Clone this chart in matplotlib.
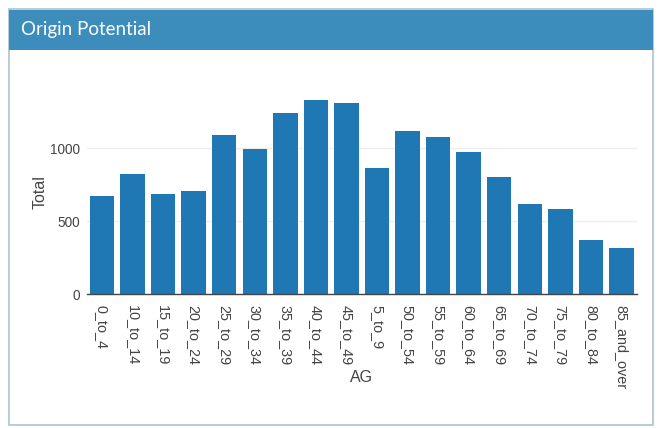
import matplotlib.pyplot as plt
from matplotlib.patches import Rectangle

# data
age_groups = ['0_to_4', '10_to_14', '15_to_19', '20_to_24', '25_to_29', '30_to_34',
              '35_to_39', '40_to_44', '45_to_49', '5_to_9', '50_to_54', '55_to_59',
              '60_to_64', '65_to_69', '70_to_74', '75_to_79', '80_to_84', '85_and_over']
totals = [673, 824, 684, 705, 1087, 995, 1238, 1329, 1309, 865,
          1117, 1075, 975, 803, 620, 581, 369, 318]

plt.rcParams['font.family'] = ['Liberation Sans', 'DejaVu Sans']

W, H = 661, 428
fig = plt.figure(figsize=(W / 100, H / 100), dpi=100)
fig.patch.set_facecolor('white')

# panel box + header
fig.patches.append(Rectangle((9 / W, 1 - 425 / H), 644 / W, 416 / H, transform=fig.transFigure,
                             facecolor='white', edgecolor='#a9c4d6', linewidth=1.2, zorder=-2))
fig.patches.append(Rectangle((9 / W, 1 - 50 / H), 644 / W, 40 / H, transform=fig.transFigure,
                             facecolor='#3c8dbc', edgecolor='none', zorder=-1))
fig.text(21 / W, 1 - 30 / H, 'Origin Potential', color='white', fontsize=13.5,
         family=['Lato', 'DejaVu Sans'], va='center', ha='left')

ax = fig.add_axes([86.7 / W, 1 - 294 / H, 550 / W, 204 / H])
ax.set_zorder(5)
ax.patch.set_alpha(0)
x = range(len(age_groups))
ax.bar(x, totals, width=0.8, color='#1f77b4', zorder=2)
ax.set_xlim(-0.5, len(age_groups) - 0.5)
ax.set_ylim(0, 1399)
ax.set_yticks([0, 500, 1000])
ax.set_xticks(list(x))
ax.set_xticklabels(age_groups, rotation=-90, ha='center', va='top')
ax.tick_params(axis='both', length=0, colors='#444444')
ax.tick_params(axis='x', pad=8, labelsize=10.4)
ax.tick_params(axis='y', pad=5, labelsize=9.8)
ax.grid(axis='y', color='#eeeeee', linewidth=1, zorder=0)
ax.set_axisbelow(True)
for s in ['top', 'right', 'left']:
    ax.spines[s].set_visible(False)
ax.spines['bottom'].set_color('#444444')
ax.spines['bottom'].set_linewidth(1)
ax.set_ylabel('Total', fontsize=11.5, color='#444444')
ax.yaxis.label.set_va('center')
ax.yaxis.set_label_coords((40 - 86.7) / 550, 0.5)
ax.set_xlabel('AG', fontsize=11.5, color='#444444')
ax.xaxis.label.set_va('center')
ax.xaxis.set_label_coords(0.5, (294 - 378) / 204)

fig.savefig('out.png', dpi=100, facecolor='white')
